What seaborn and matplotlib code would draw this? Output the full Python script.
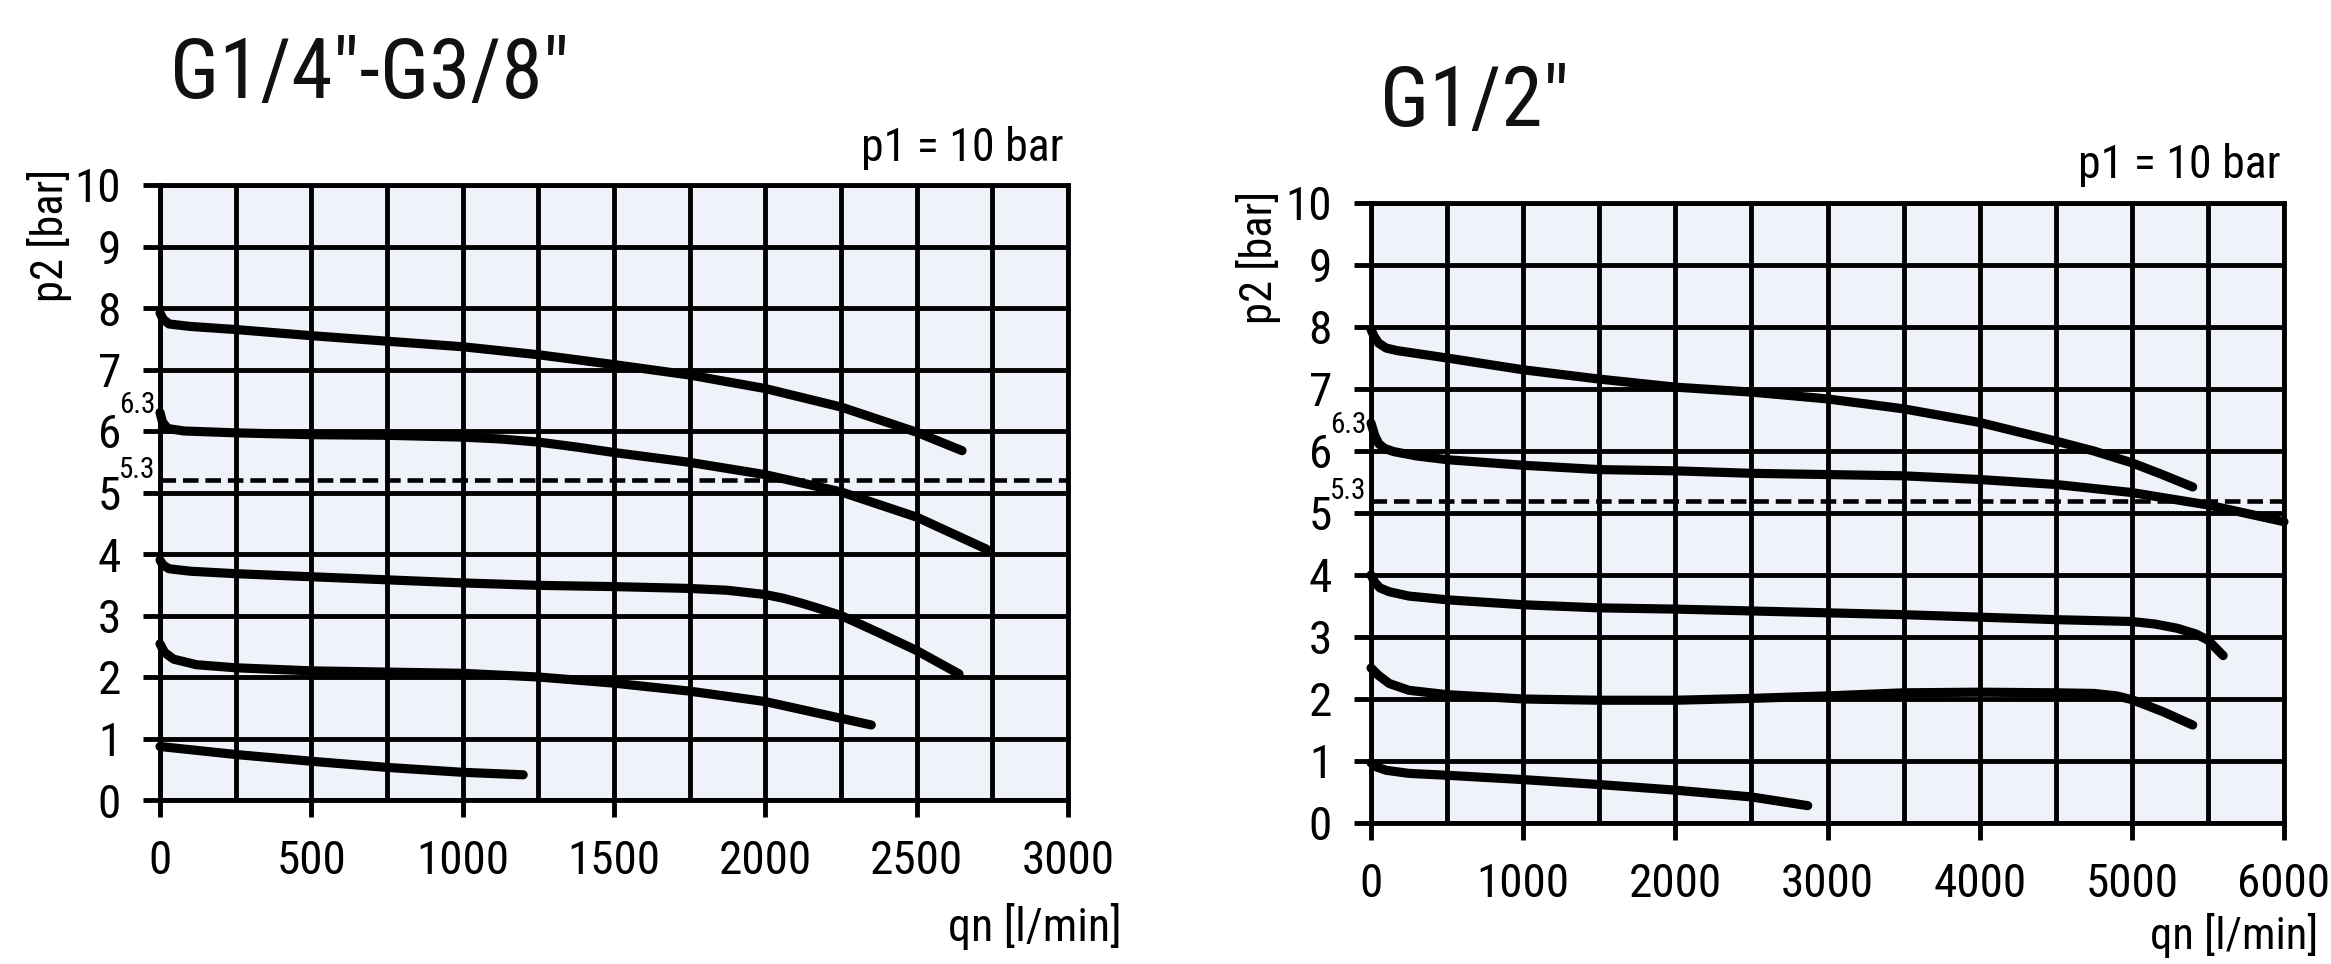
import matplotlib
matplotlib.use("Agg")
import matplotlib.pyplot as plt
from matplotlib import font_manager as fm
from matplotlib.ticker import MultipleLocator
import seaborn as sns
import pandas as pd

# ---------------- data ----------------
# G1/4"-G3/8"  (qn l/min , p2 bar)
L_q1 = [0, 10, 30, 100, 250, 500, 750, 1000, 1250, 1500, 1750, 2000, 2250, 2500, 2650]
L_p1 = [7.92, 7.82, 7.74, 7.7, 7.65, 7.55, 7.46, 7.37, 7.24, 7.08, 6.91, 6.69, 6.39, 5.98, 5.68]
L_q2 = [0, 8, 25, 80, 250, 500, 750, 1000, 1125, 1250, 1375, 1500, 1750, 2000, 2250, 2500, 2730]
L_p2 = [6.3, 6.15, 6.04, 6.0, 5.97, 5.94, 5.93, 5.9, 5.87, 5.82, 5.74, 5.65, 5.49, 5.29, 5.01, 4.6, 4.08]
L_q3 = [0, 10, 30, 100, 250, 500, 750, 1000, 1250, 1500, 1750, 1875, 2000, 2060, 2120, 2180, 2250, 2375, 2500, 2640]
L_p3 = [3.9, 3.82, 3.76, 3.72, 3.68, 3.63, 3.58, 3.53, 3.49, 3.47, 3.44, 3.41, 3.34, 3.28, 3.2, 3.11, 3.0, 2.72, 2.43, 2.05]
L_q4 = [0, 15, 45, 120, 250, 500, 750, 1000, 1250, 1500, 1750, 2000, 2120, 2350]
L_p4 = [2.54, 2.4, 2.29, 2.2, 2.15, 2.1, 2.08, 2.06, 2.0, 1.9, 1.77, 1.6, 1.47, 1.22]
L_q5 = [0, 250, 500, 750, 1000, 1200]
L_p5 = [0.87, 0.74, 0.63, 0.53, 0.45, 0.41]

# G1/2"
R_q1 = [0, 20, 50, 100, 170, 500, 1000, 1500, 2000, 2500, 3000, 3500, 4000, 4500, 4750, 5000, 5200, 5400]
R_p1 = [7.96, 7.85, 7.74, 7.66, 7.62, 7.5, 7.31, 7.16, 7.03, 6.95, 6.84, 6.68, 6.46, 6.16, 6.0, 5.81, 5.62, 5.42]
R_q2 = [0, 25, 50, 90, 150, 300, 500, 1000, 1500, 2000, 2500, 3000, 3500, 4000, 4500, 5000, 5500, 6000]
R_p2 = [6.45, 6.25, 6.12, 6.04, 5.99, 5.92, 5.86, 5.77, 5.7, 5.68, 5.64, 5.62, 5.6, 5.54, 5.46, 5.33, 5.13, 4.86]
R_q3 = [0, 25, 60, 120, 250, 500, 1000, 1500, 2000, 2500, 3000, 3500, 4000, 4500, 5000, 5150, 5300, 5420, 5500, 5600]
R_p3 = [4.0, 3.88, 3.79, 3.73, 3.66, 3.6, 3.52, 3.47, 3.45, 3.42, 3.39, 3.36, 3.32, 3.28, 3.25, 3.21, 3.14, 3.05, 2.95, 2.7]
R_q4 = [0, 50, 120, 250, 500, 1000, 1500, 2000, 2500, 3000, 3500, 4000, 4500, 4750, 4900, 5000, 5200, 5400]
R_p4 = [2.5, 2.38, 2.25, 2.14, 2.07, 2.0, 1.98, 1.98, 2.01, 2.05, 2.1, 2.11, 2.1, 2.09, 2.05, 1.99, 1.8, 1.58]
R_q5 = [0, 40, 100, 250, 500, 1000, 1500, 2000, 2500, 2870]
R_p5 = [0.97, 0.9, 0.85, 0.8, 0.77, 0.7, 0.62, 0.53, 0.42, 0.28]

dash_level = 5.2
y_ticks = list(range(0, 11))
L_xticks = [0, 500, 1000, 1500, 2000, 2500, 3000]
R_xticks = [0, 1000, 2000, 3000, 4000, 5000, 6000]
titles = ["G1/4\u2033-G3/8\u2033", "G1/2\u2033"]
p1_text = "p1 = 10 bar"
ylab = "p2 [bar]"
xlab = "qn [l/min]"
mark_labels = ["6.3", "5.3"]

# ---------------- style ----------------
W, H = 2331, 964
sns.set_theme(style="white")
avail = {f.name for f in fm.fontManager.ttflist}
narrow = next((n for n in ["Liberation Sans Narrow", "Roboto Condensed", "Open Sans Condensed",
                           "Liberation Sans"] if n in avail), "DejaVu Sans")
plt.rcParams["font.family"] = [narrow, "DejaVu Sans"]

fig = plt.figure(figsize=(W / 100, H / 100), dpi=100)
fig.patch.set_facecolor("white")


def axes_px(l, r, t, b):
    return fig.add_axes([l / W, 1 - b / H, (r - l) / W, (b - t) / H])


def fpos(x, y):
    return x / W, 1 - y / H


GRID_LW = 3.5
CURVE_LW = 6.6


def style_axes(ax, xmax, xmajor, xminor):
    ax.set_facecolor("#f0f2fa")
    ax.set_xlim(0, xmax)
    ax.set_ylim(0, 10)
    ax.set_xticks(xmajor)
    ax.set_yticks(y_ticks)
    ax.set_yticklabels([str(v) for v in y_ticks])
    ax.set_xticklabels([str(v) for v in xmajor])
    ax.xaxis.set_minor_locator(MultipleLocator(xminor))
    ax.tick_params(which="major", direction="out", length=12, width=GRID_LW,
                   color="black", labelsize=34, labelcolor="black", pad=16,
                   bottom=True, left=True)
    ax.tick_params(which="minor", length=0)
    ax.grid(which="both", color="black", lw=GRID_LW, zorder=1)
    ax.set_axisbelow(True)
    for s in ax.spines.values():
        s.set_visible(True)
        s.set_color("black")
        s.set_linewidth(GRID_LW)
    ax.set_xlabel("")
    ax.set_ylabel("")


def draw_curves(ax, series, xmax):
    for q, p in series:
        df = pd.DataFrame({"q": q, "p": p})
        sns.lineplot(data=df, x="q", y="p", ax=ax, color="black", lw=CURVE_LW,
                     sort=False, estimator=None, legend=False, clip_on=False,
                     solid_capstyle="round", solid_joinstyle="round", zorder=4)
    dd = pd.DataFrame({"q": [0, xmax], "p": [dash_level, dash_level]})
    sns.lineplot(data=dd, x="q", y="p", ax=ax, color="black", lw=3.3,
                 linestyle=(0, (3.4, 1.5)), sort=False, estimator=None,
                 legend=False, zorder=3)
    for lab, yv in zip(mark_labels, [6.42, 5.36]):
        ax.annotate(lab, xy=(0, yv), xycoords=("axes fraction", "data"),
                    xytext=(-3, 0), textcoords="offset points",
                    ha="right", va="center", fontsize=21, color="black")


# left chart
axL = axes_px(160, 1068, 185, 800)
draw_curves(axL, [(L_q1, L_p1), (L_q2, L_p2), (L_q3, L_p3), (L_q4, L_p4), (L_q5, L_p5)], 3000)
style_axes(axL, 3000, L_xticks, 250)

# right chart
axR = axes_px(1371, 2284, 203, 823)
draw_curves(axR, [(R_q1, R_p1), (R_q2, R_p2), (R_q3, R_p3), (R_q4, R_p4), (R_q5, R_p5)], 6000)
style_axes(axR, 6000, R_xticks, 500)

# texts
fig.text(*fpos(170, 98), titles[0], fontsize=60, ha="left", va="baseline", color="#111111")
fig.text(*fpos(1380, 126), titles[1], fontsize=60, ha="left", va="baseline", color="#111111")

fig.text(*fpos(1064, 161), p1_text, fontsize=33, ha="right", va="baseline", color="black")
fig.text(*fpos(2281, 178), p1_text, fontsize=33, ha="right", va="baseline", color="black")

fig.text(*fpos(50, 235), ylab, fontsize=32, rotation=90, ha="center", va="center", color="black")
fig.text(*fpos(1259, 257), ylab, fontsize=32, rotation=90, ha="center", va="center", color="black")

fig.text(*fpos(1122, 926), xlab, fontsize=33, ha="right", va="center", color="black")
fig.text(*fpos(2318, 936), xlab, fontsize=32, ha="right", va="center", color="black")

fig.savefig("out.png", dpi=100, facecolor="white")
